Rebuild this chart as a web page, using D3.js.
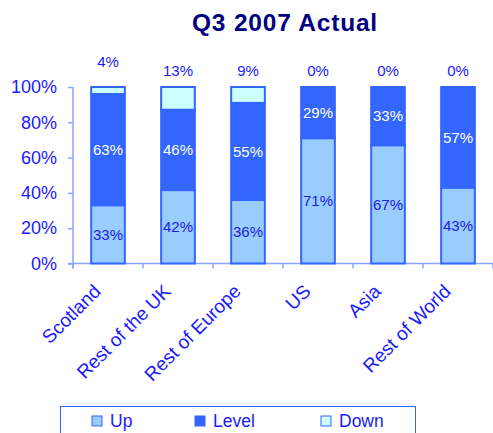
<!DOCTYPE html>
<html>
<head>
<meta charset="utf-8">
<script src="https://cdn.jsdelivr.net/npm/d3@7/dist/d3.min.js"></script>
<style>
  body { margin: 0; background: #fff; }
  svg { display: block; font-family: "Liberation Sans", Arial, sans-serif; }
</style>
</head>
<body>
<div id="vis"></div>
<script>
// Data
const regions = ["Scotland", "Rest of the UK", "Rest of Europe", "US", "Asia", "Rest of World"];
const upPct = [33, 42, 36, 71, 67, 43];
const levelPct = [63, 46, 55, 29, 33, 57];
const downPct = [4, 13, 9, 0, 0, 0];
const seriesNames = ["Up", "Level", "Down"];
const yTicks = [0, 0.2, 0.4, 0.6, 0.8, 1];

const width = 493;
const height = 433;
const margin = { top: 87, right: 0, bottom: 170, left: 73 };

const fills = { Up: "#99ccff", Level: "#3366ff", Down: "#ccffff" };
const labelColor = { Up: "#2020e0", Level: "#ffffff" };
const textBlue = "#1a1aff";
const axisColor = "#8aa4ff";

const table = regions.map((r, i) => ({ region: r, Up: upPct[i], Level: levelPct[i], Down: downPct[i] }));

const stack = d3.stack().keys(seriesNames).offset(d3.stackOffsetExpand);
const layers = stack(table);

const svg = d3.select("#vis")
  .append("svg")
  .attr("width", width)
  .attr("height", height);

const xScale = d3.scaleBand()
  .domain(regions)
  .range([margin.left, width - margin.right])
  .paddingInner(0.49)
  .paddingOuter(0.245);

const yScale = d3.scaleLinear()
  .domain([0, 1])
  .range([height - margin.bottom + 0.5, margin.top]);

// Title
svg.append("text")
  .attr("x", 285)
  .attr("y", 31)
  .attr("text-anchor", "middle")
  .attr("fill", "#000080")
  .attr("font-size", "24.5px")
  .attr("font-weight", "bold")
  .attr("letter-spacing", "0.8px")
  .text("Q3 2007 Actual");

// Y axis
const yAxis = svg.append("g")
  .attr("transform", `translate(${margin.left},0)`)
  .call(d3.axisLeft(yScale).tickValues(yTicks).tickFormat(d3.format(".0%")).tickSize(5).tickPadding(11));
yAxis.select(".domain").attr("stroke", axisColor).attr("stroke-width", 1.5).attr("d", `M0,${yScale(1)}V${yScale(0) + 5}`);
yAxis.selectAll(".tick line").attr("stroke", axisColor).attr("stroke-width", 1.5);
yAxis.selectAll(".tick text")
  .attr("fill", textBlue)
  .attr("font-size", "18px")
  .attr("font-family", "Liberation Sans, Arial, sans-serif");

// X axis (ticks on category boundaries)
const bandStep = xScale.step();
const boundaries = d3.range(regions.length + 1).map(i => margin.left + i * bandStep);
const xAxis = svg.append("g");
xAxis.append("line")
  .attr("x1", margin.left - 5)
  .attr("x2", width)
  .attr("y1", yScale(0))
  .attr("y2", yScale(0))
  .attr("stroke", axisColor)
  .attr("stroke-width", 1.5);
xAxis.selectAll("line.tick")
  .data(boundaries)
  .enter()
  .append("line")
  .attr("class", "tick")
  .attr("x1", d => d)
  .attr("x2", d => d)
  .attr("y1", yScale(0))
  .attr("y2", yScale(0) + 5)
  .attr("stroke", axisColor)
  .attr("stroke-width", 1.5);

xAxis.selectAll("text.cat")
  .data(regions)
  .enter()
  .append("text")
  .attr("class", "cat")
  .attr("transform", d => `translate(${xScale(d) + xScale.bandwidth() / 2 - 6},${yScale(0) + 29}) rotate(-45)`)
  .attr("text-anchor", "end")
  .attr("fill", textBlue)
  .attr("font-size", "19px")
  .text(d => d);

// Bars
const layerG = svg.selectAll("g.layer")
  .data(layers)
  .enter()
  .append("g")
  .attr("class", "layer")
  .attr("fill", d => fills[d.key]);

layerG.selectAll("rect")
  .data(d => d.map(p => ({ key: d.key, p })))
  .enter()
  .append("rect")
  .attr("x", d => xScale(d.p.data.region) + 1)
  .attr("width", xScale.bandwidth() - 2)
  .attr("y", d => yScale(d.p[1]))
  .attr("height", d => Math.max(0, yScale(d.p[0]) - yScale(d.p[1])))
  .attr("stroke", "#3366ff")
  .attr("stroke-width", 2);

// Segment labels for Up and Level
layers.filter(l => l.key !== "Down").forEach(l => {
  svg.selectAll(null)
    .data(l)
    .enter()
    .append("text")
    .attr("x", d => xScale(d.data.region) + xScale.bandwidth() / 2)
    .attr("y", d => (yScale(d[0]) + yScale(d[1])) / 2)
    .attr("dy", "0.35em")
    .attr("text-anchor", "middle")
    .attr("fill", labelColor[l.key])
    .attr("font-size", "15px")
    .text(d => d.data[l.key] + "%");
});

// Down labels above bars
svg.selectAll("text.down")
  .data(table)
  .enter()
  .append("text")
  .attr("class", "down")
  .attr("x", d => xScale(d.region) + xScale.bandwidth() / 2)
  .attr("y", (d, i) => i === 0 ? 67 : 76)
  .attr("text-anchor", "middle")
  .attr("fill", textBlue)
  .attr("font-size", "15px")
  .text(d => d.Down + "%");

// Legend
const legend = svg.append("g").attr("transform", "translate(60,406)");
legend.append("rect")
  .attr("x", 0.5)
  .attr("y", 0.5)
  .attr("width", 355)
  .attr("height", 40)
  .attr("fill", "#fff")
  .attr("stroke", "#3366ff")
  .attr("stroke-width", 1);

const legendX = [32, 135, 261];
seriesNames.forEach((name, i) => {
  const item = legend.append("g").attr("transform", `translate(${legendX[i]},10)`);
  item.append("rect")
    .attr("width", 10)
    .attr("height", 10)
    .attr("fill", fills[name])
    .attr("stroke", "#3366ff")
    .attr("stroke-width", 1);
  item.append("text")
    .attr("x", 18)
    .attr("y", 11)
    .attr("fill", textBlue)
    .attr("font-size", "17.5px")
    .text(name);
});
</script>
</body>
</html>
